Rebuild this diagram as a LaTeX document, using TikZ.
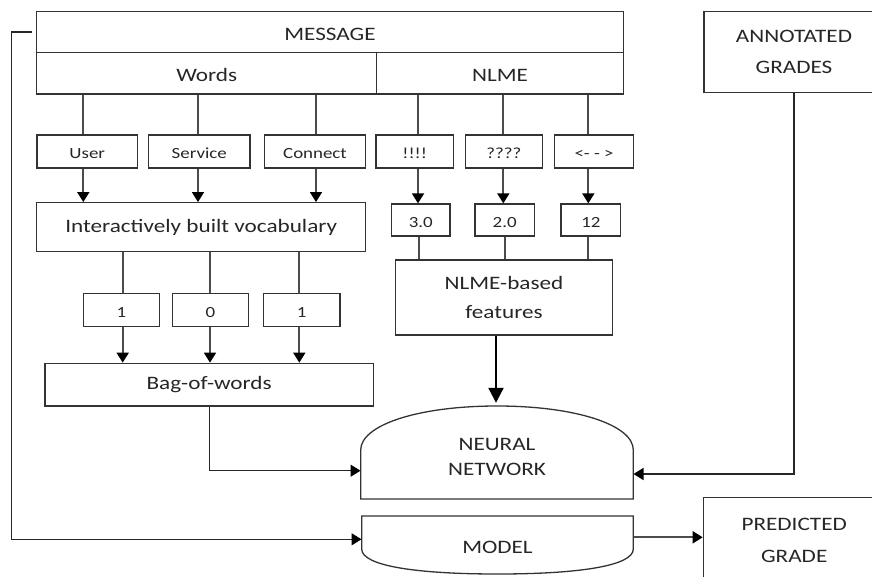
\documentclass[tikz,border=0pt]{standalone}
\usepackage{fontspec}
\setmainfont{Carlito}[FakeStretch=1.22]
\usetikzlibrary{arrows.meta}
\begin{document}
\begin{tikzpicture}[x=1pt,y=-1pt,
  box/.style={draw=black!80, line width=1.3pt, rectangle, inner sep=0pt, text=black!85},
  big/.style={font=\fontsize{19}{25}\selectfont},
  small/.style={font=\fontsize{15.5}{18}\selectfont, text height=14pt, text depth=0pt},
  lowered/.style={text height=16pt, text depth=0pt},
  conn/.style={draw=black!70, line width=1.8pt},
  arr/.style={conn, -{Triangle[length=10pt,width=12pt,color=black]}},
  bigarr/.style={draw=black, line width=2pt, -{Triangle[length=15pt,width=15pt,color=black]}},
  outline/.style={draw=black!80, line width=1.3pt}
]
\useasboundingbox (0,0) rectangle (872,576);

% top rows
\node[box,big,lowered,minimum width=586.6pt,minimum height=40.6pt] (msg) at (330,32) {MESSAGE};
\node[box,big,lowered,minimum width=340pt,minimum height=41.7pt] (words) at (206.7,73.15) {Words};
\node[box,big,lowered,minimum width=246.6pt,minimum height=41.7pt] (nlme) at (500,73.15) {NLME};
\node[box,big,align=center,font=\fontsize{19}{31}\selectfont,minimum width=180pt,minimum height=80.6pt] (annot) at (794,52) {ANNOTATED\\GRADES};

% small boxes
\node[box,small,minimum width=100.5pt,minimum height=33pt] (user) at (87.25,151.5) {User};
\node[box,small,minimum width=101.5pt,minimum height=33pt] (service) at (199.25,151.5) {Service};
\node[box,small,minimum width=101pt,minimum height=33pt] (connect) at (315,151.5) {Connect};
\node[box,small,minimum width=77.3pt,minimum height=33pt] (excl) at (414.65,151.5) {!!!!};
\node[box,small,minimum width=77pt,minimum height=33pt] (quest) at (503.8,151.5) {????};
\node[box,small,minimum width=78.5pt,minimum height=33pt] (angle) at (594,151.5) {<- - >};

% vocabulary and NLME values
\node[box,big,minimum width=329pt,minimum height=49pt] (vocab) at (201.2,227.2) {Interactively built vocabulary};
\node[box,small,minimum width=58.3pt,minimum height=32pt] (f1) at (420.85,220) {3.0};
\node[box,small,minimum width=59.3pt,minimum height=32pt] (f2) at (504.65,220) {2.0};
\node[box,small,minimum width=59.7pt,minimum height=32pt] (f3) at (590.85,220) {12};

% bag-of-words values
\node[box,small,minimum width=76pt,minimum height=33.4pt] (b1) at (121.3,310) {1};
\node[box,small,minimum width=76pt,minimum height=33.4pt] (b2) at (210.3,310) {0};
\node[box,small,minimum width=76.7pt,minimum height=33.4pt] (b3) at (301.65,310) {1};

\node[box,big,minimum width=328.3pt,minimum height=42.7pt] (bow) at (209.15,384.65) {Bag-of-words};
\node[box,big,align=center,font=\fontsize{19}{29}\selectfont,minimum width=216.6pt,minimum height=75pt] (nlmef) at (504,297.5) {NLME-based\\features};

% neural network
\draw[outline] (360.7,499) -- (360.7,450) .. controls (360.7,425) and (418,406) .. (497,406)
  .. controls (576,406) and (633.3,425) .. (633.3,450) -- (633.3,499) -- cycle;
\node[draw=none,inner sep=0pt,minimum width=272.6pt,minimum height=93pt] (nn) at (497,452.5) {};
\node[big,align=center,text=black!85,font=\fontsize{19}{25}\selectfont] (nnlabel) at (497,457) {NEURAL\\NETWORK};

% model
\draw[outline] (361.7,516) -- (633.3,516) -- (633.3,549) .. controls (633.3,566) and (578,574) .. (497.5,574)
  .. controls (417,574) and (361.7,566) .. (361.7,549) -- cycle;
\node[big,text=black!85,inner sep=0pt,minimum width=271.6pt,minimum height=58pt] (model) at (497.5,547) {MODEL};

% predicted grade
\node[box,big,align=center,font=\fontsize{19}{31.7}\selectfont,minimum width=181.7pt,minimum height=86pt] (pred) at (794.2,540.3) {PREDICTED\\GRADE};

% connectors: message rows to small boxes
\draw[conn] (words.south -| 83.3,0) -- (user.north -| 83.3,0);
\draw[conn] (words.south -| 198,0) -- (service.north -| 198,0);
\draw[conn] (words.south -| 316,0) -- (connect.north -| 316,0);
\draw[conn] (nlme.south -| 418,0) -- (excl.north -| 418,0);
\draw[conn] (nlme.south -| 503.3,0) -- (quest.north -| 503.3,0);
\draw[conn] (nlme.south -| 588.3,0) -- (angle.north -| 588.3,0);

% small boxes to vocabulary / values
\draw[arr] (user.south -| 83.3,0) -- (vocab.north -| 83.3,0);
\draw[arr] (service.south -| 198,0) -- (vocab.north -| 198,0);
\draw[arr] (connect.south -| 316,0) -- (vocab.north -| 316,0);
\draw[arr] (excl.south -| 418,0) -- (f1.north -| 418,0);
\draw[arr] (quest.south -| 503.3,0) -- (f2.north -| 503.3,0);
\draw[arr] (angle.south -| 588.3,0) -- (f3.north -| 588.3,0);

% vocabulary to bag values
\draw[conn] (vocab.south -| 122.7,0) -- (b1.north -| 122.7,0);
\draw[conn] (vocab.south -| 210,0) -- (b2.north -| 210,0);
\draw[conn] (vocab.south -| 299.3,0) -- (b3.north -| 299.3,0);
\draw[arr] (b1.south -| 122.7,0) -- (bow.north -| 122.7,0);
\draw[arr] (b2.south -| 210,0) -- (bow.north -| 210,0);
\draw[arr] (b3.south -| 299.3,0) -- (bow.north -| 299.3,0);

% NLME values to NLME-based features
\draw[conn] (f1.south -| 419.3,0) -- (nlmef.north -| 419.3,0);
\draw[conn] (f2.south -| 505,0) -- (nlmef.north -| 505,0);
\draw[conn] (f3.south -| 588.3,0) -- (nlmef.north -| 588.3,0);

% into neural network
\draw[bigarr] (nlmef.south -| 496,0) -- ([yshift=3pt]nn.north -| 496,0);
\draw[arr,draw=black!85,line width=1.4pt] (bow.south -| 209.3,0) |- (nn.west |- 0,470.7);
\draw[arr,draw=black!85,line width=1.4pt] (annot.south) |- (nn.east |- 0,474);

% message to model, model to predicted grade
\draw[arr,draw=black!85,line width=1.4pt] ([xshift=-3.7pt]msg.west) -| (11.7,539.3) -- (model.west |- 0,539.3);
\draw[arr] (model.east |- 0,537.3) -- (pred.west |- 0,537.3);
\end{tikzpicture}
\end{document}
